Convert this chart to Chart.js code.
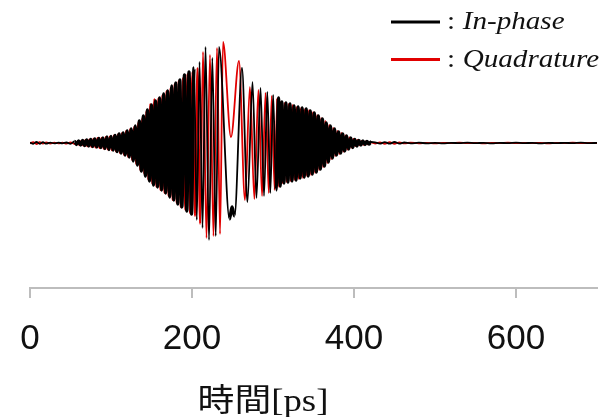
<!DOCTYPE html>
<html>
<head>
<meta charset="utf-8">
<script src="https://cdn.jsdelivr.net/npm/chart.js@4"></script>
<style>
  html, body { margin: 0; padding: 0; background: #fff; }
  #wrap { width: 606px; height: 417px; position: relative; }
</style>
</head>
<body>
<div id="wrap"><canvas id="chart"></canvas></div>
<script>
// Values: time in ps, amplitude in arbitrary units
const seriesLabels = ['In-phase', 'Quadrature'];
const axisTitle = '時間[ps]';
const tickValues = [0, 200, 400, 600];

const inPhaseTime = [
  0, 4, 8, 12, 16, 20, 25, 30, 35, 40, 45, 50,
  55, 57.5, 60, 62.5, 65, 67.5, 70, 72.5, 75, 77.5,
  80, 82.5, 85, 87.5, 90, 92.5, 95, 97.5, 100, 102.5,
  105, 107.5, 110, 112.5, 115, 117.5, 120, 122.5, 125, 127.5,
  130, 132.5, 135, 137.5, 140, 142.5, 145, 147.5, 150, 152.5,
  155, 157.5, 160, 162.5, 165, 167.5, 170, 172.5, 175, 177.5,
  180, 182.5, 185, 187.5,
  190.7, 193.6, 196.3, 199.4, 202.5, 205.9, 209.3, 213, 216.7, 221,
  225.1, 229.3, 233.3, 246.3, 249.4, 252.5, 261.7, 268.5, 274.7, 279.6,
  284.6, 288.9, 293, 296.7, 300.2, 303.7, 306.9, 308.9,
  311, 313.5, 316, 318.5, 321, 323.5, 326, 328.5, 331, 333.5,
  336, 338.5, 341, 343.5, 346, 348.5, 351, 353.5, 356, 358.5,
  361, 363.5, 366, 368.5, 371, 373.5, 376, 378.5, 381, 383.5,
  386, 388.5, 391, 393.5, 396, 398.5, 401, 403.5, 406, 408.5,
  411, 413.5, 416, 418.5, 421,
  426, 432, 438, 444, 450, 456, 462, 470, 480, 490,
  500, 510, 520, 530, 540, 550, 560, 570, 580, 590,
  600, 610, 620, 630, 640, 650, 660, 670, 680, 690, 700
];

const inPhase = [
  0.005, -0.008, 0.01, -0.008, 0.008, -0.006, 0.004, -0.004, 0.003, -0.003, 0.005, -0.008,
  0.015, -0.015, 0.02, -0.02, 0.025, -0.025, 0.03, -0.03, 0.035, -0.035,
  0.04, -0.04, 0.045, -0.045, 0.05, -0.055, 0.06, -0.065, 0.065, -0.07,
  0.075, -0.085, 0.09, -0.1, 0.1, -0.12, 0.12, -0.14, 0.14, -0.18,
  0.17, -0.22, 0.22, -0.28, 0.27, -0.33, 0.33, -0.38, 0.38, -0.42,
  0.42, -0.44, 0.45, -0.47, 0.49, -0.5, 0.52, -0.54, 0.57, -0.57,
  0.6, -0.61, 0.63, -0.64,
  0.68, -0.68, 0.71, -0.71, 0.75, -0.77, 0.81, -0.85, 0.96, -0.97,
  0.85, -0.93, 0.96, -0.76, -0.64, -0.73, 0.75, -0.59, 0.61, -0.55,
  0.55, -0.53, 0.51, -0.5, 0.48, -0.47, 0.45, -0.43,
  0.41, -0.4, 0.4, -0.39, 0.39, -0.38, 0.37, -0.37, 0.36, -0.35,
  0.35, -0.34, 0.34, -0.33, 0.32, -0.31, 0.3, -0.29, 0.27, -0.26,
  0.24, -0.23, 0.2, -0.19, 0.17, -0.15, 0.14, -0.12, 0.11, -0.1,
  0.09, -0.08, 0.07, -0.06, 0.05, -0.045, 0.035, -0.03, 0.025, -0.02,
  0.02, -0.015, 0.015, -0.012, 0.01,
  0.006, -0.006, 0.009, -0.007, 0.01, -0.006, 0.005, -0.004, 0.003, -0.003,
  0.002, -0.003, 0.002, -0.002, 0.003, -0.002, 0.002, -0.003, 0.002, -0.002,
  0.003, -0.002, 0.002, -0.003, 0.002, -0.002, 0.002, -0.002, 0.003, -0.002, 0.001
];

const quadratureTime = [
  0, 4, 8, 12, 16, 20, 25, 30, 35, 40, 45, 50,
  56, 58.5, 61, 63.5, 66, 68.5, 71, 73.5, 76, 78.5,
  81, 83.5, 86, 88.5, 91, 93.5, 96, 98.5, 101, 103.5,
  106, 108.5, 111, 113.5, 116, 118.5, 121, 123.5, 126, 128.5,
  131, 133.5, 136, 138.5, 141, 143.5, 146, 148.5, 151, 153.5,
  156, 158.5, 161, 163.5, 166, 168.5, 171, 173.5, 176, 178.5,
  181, 183.5, 186,
  188.9, 191.7, 194.4, 197.5, 200.6, 203.7, 206.8, 210.1, 213.6, 217.9,
  222.2, 226.5, 230.9, 234.6, 238.3, 248.1, 258, 265.4, 271.5, 277,
  282, 286.5, 290.8, 294.8, 298.5, 302, 305.3, 307.6,
  309.5, 312, 314.5, 317, 319.5, 322, 324.5, 327, 329.5, 332,
  334.5, 337, 339.5, 342, 344.5, 347, 349.5, 352, 354.5, 357,
  359.5, 362, 364.5, 367, 369.5, 372, 374.5, 377, 379.5, 382,
  384.5, 387, 389.5, 392, 394.5, 397, 399.5, 402, 404.5, 407,
  409.5, 412, 414.5, 417, 419.5,
  426, 432, 438, 444, 450, 456, 462, 470, 480, 490,
  500, 510, 520, 530, 540, 550, 560, 570, 580, 590,
  600, 610, 620, 630, 640, 650, 660, 670, 680, 690, 700
];

const quadrature = [
  -0.004, 0.008, -0.01, 0.009, -0.006, 0.006, -0.005, 0.004, -0.004, 0.003, -0.006, 0.006,
  -0.012, 0.015, -0.02, 0.022, -0.025, 0.028, -0.032, 0.035, -0.038, 0.042,
  -0.045, 0.048, -0.05, 0.052, -0.056, 0.06, -0.065, 0.065, -0.072, 0.075,
  -0.082, 0.085, -0.1, 0.1, -0.12, 0.12, -0.14, 0.14, -0.17, 0.16,
  -0.21, 0.2, -0.27, 0.25, -0.31, 0.32, -0.37, 0.39, -0.41, 0.44,
  -0.44, 0.45, -0.47, 0.48, -0.5, 0.52, -0.53, 0.55, -0.57, 0.59,
  -0.6, 0.62, -0.64,
  0.65, -0.67, 0.69, -0.7, 0.71, -0.73, 0.75, -0.81, 0.91, -0.95,
  0.88, -0.93, 0.95, -0.91, 1.01, 0.06, 0.82, -0.57, 0.56, -0.56,
  0.53, -0.53, 0.5, -0.5, 0.47, -0.47, 0.45, -0.44,
  0.41, -0.4, 0.4, -0.39, 0.39, -0.38, 0.38, -0.37, 0.36, -0.36,
  0.35, -0.35, 0.34, -0.33, 0.33, -0.32, 0.31, -0.3, 0.28, -0.27,
  0.25, -0.24, 0.22, -0.2, 0.18, -0.16, 0.15, -0.13, 0.12, -0.11,
  0.1, -0.085, 0.075, -0.065, 0.055, -0.045, 0.04, -0.03, 0.028, -0.022,
  0.02, -0.016, 0.015, -0.012, 0.01,
  -0.005, 0.007, -0.008, 0.009, -0.008, 0.007, -0.004, 0.004, -0.003, 0.002,
  -0.003, 0.002, -0.002, 0.003, -0.002, 0.002, -0.003, 0.002, -0.002, 0.003,
  -0.002, 0.002, -0.002, 0.002, -0.003, 0.002, -0.002, 0.003, -0.002, 0.002, -0.001
];

const toPoints = (xs, ys) => xs.map((x, i) => ({ x: x, y: ys[i] }));

// thicker stroke where the samples are packed tight, so the dense part reads as a solid mass
const packedWidth = (thick, thin) => c => (c.p1.parsed.x - c.p0.parsed.x < 3.3 ? thick : thin);

// legend at top right and the axis title, drawn as canvas text
const annotate = {
  id: 'annotate',
  afterDraw(chart) {
    const ctx = chart.ctx;
    ctx.save();
    chart.data.datasets.forEach((ds, i) => {
      const y = 22 + i * 37.5;
      ctx.strokeStyle = ds.borderColor;
      ctx.lineWidth = 3;
      ctx.beginPath();
      ctx.moveTo(391, y);
      ctx.lineTo(440, y);
      ctx.stroke();
      ctx.save();
      ctx.translate(447, y + 7);
      ctx.scale(1.12, 1);
      ctx.fillStyle = '#111';
      ctx.textBaseline = 'alphabetic';
      ctx.font = '26px "Liberation Serif", serif';
      ctx.fillText(':', 0, 0);
      ctx.font = 'italic 26px "Liberation Serif", serif';
      ctx.fillText(ds.label, 14, 0);
      ctx.restore();
    });
    ctx.save();
    ctx.translate(263, 411);
    ctx.scale(1.15, 1);
    ctx.fillStyle = '#111';
    ctx.textAlign = 'center';
    ctx.textBaseline = 'alphabetic';
    ctx.font = '32px "Liberation Serif", "Noto Sans CJK JP", serif';
    ctx.fillText(axisTitle, 0, 0);
    ctx.restore();
    ctx.restore();
  }
};

const ctx = document.getElementById('chart').getContext('2d');
new Chart(ctx, {
  type: 'line',
  data: {
    datasets: [{
      label: seriesLabels[0],
      data: toPoints(inPhaseTime, inPhase),
      borderColor: '#000000',
      borderWidth: 1.8,
      segment: { borderWidth: packedWidth(3.3, 1.8) }
    }, {
      label: seriesLabels[1],
      data: toPoints(quadratureTime, quadrature),
      borderColor: '#e10000',
      borderWidth: 1.8,
      segment: { borderWidth: packedWidth(2.2, 1.8) }
    }]
  },
  options: {
    responsive: true,
    maintainAspectRatio: false,
    animation: false,
    events: [],
    elements: {
      point: { radius: 0 },
      line: { cubicInterpolationMode: 'monotone', fill: false }
    },
    layout: { padding: { left: 30, right: 9, top: 0, bottom: 37 } },
    scales: {
      x: {
        type: 'linear',
        min: 0,
        max: 700,
        afterBuildTicks: axis => { axis.ticks = tickValues.map(v => ({ value: v })); },
        ticks: {
          color: '#111',
          padding: 20,
          maxRotation: 0,
          font: { family: '"Liberation Sans", Arial, sans-serif', size: 35 }
        },
        grid: {
          drawOnChartArea: false,
          drawTicks: true,
          tickLength: 10,
          color: '#bdbdbd',
          lineWidth: 2
        },
        border: { display: true, color: '#bdbdbd', width: 2 }
      },
      y: {
        display: false,
        min: -1.45,
        max: 1.43
      }
    },
    plugins: {
      legend: { display: false },
      tooltip: { enabled: false }
    }
  },
  plugins: [annotate]
});
</script>
</body>
</html>
